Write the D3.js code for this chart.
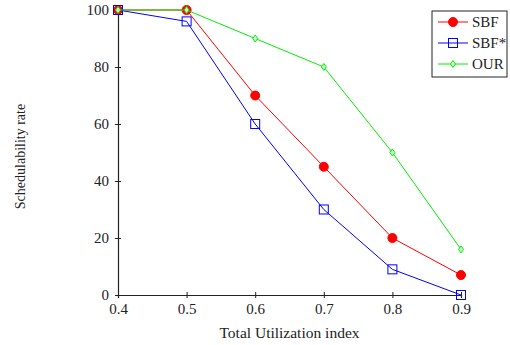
<!DOCTYPE html>
<html>
<head>
<meta charset="utf-8">
<script src="https://cdn.jsdelivr.net/npm/d3@7"></script>
<style>
  body { margin: 0; background: #fff; }
  svg text { font-family: "Liberation Serif", "DejaVu Serif", serif; fill: #222; }
</style>
</head>
<body>
<div id="chart"></div>
<script>
// data
const utilization = [0.4, 0.5, 0.6, 0.7, 0.8, 0.9];
const sbf = [100, 100, 70, 45, 20, 7];
const sbfStar = [100, 96, 60, 30, 9, 0];
const our = [100, 100, 90, 80, 50, 16];
const xTicks = [0.4, 0.5, 0.6, 0.7, 0.8, 0.9];
const yTicks = [0, 20, 40, 60, 80, 100];

const serif = "'Liberation Serif', 'DejaVu Serif', serif";

const margin = {top: 10, right: 49, bottom: 50, left: 118},
    width = 510 - margin.left - margin.right,
    height = 345 - margin.top - margin.bottom;

const svg = d3.select("#chart")
    .append("svg")
    .attr("width", 510)
    .attr("height", 345)
    .attr("font-family", serif);

const g = svg.append("g")
    .attr("transform", "translate(" + margin.left + "," + margin.top + ")");

const x = d3.scaleLinear().domain([0.4, 0.9]).range([0, width]);
const y = d3.scaleLinear().domain([0, 100]).range([height, 0]);

// axes
const xAxis = g.append("g")
    .attr("transform", "translate(0," + height + ")")
    .call(d3.axisBottom(x).tickValues(xTicks).tickFormat(d3.format(".1f")).tickSize(3).tickPadding(5));
const yAxis = g.append("g")
    .call(d3.axisLeft(y).tickValues(yTicks).tickSize(3).tickPadding(6));

[xAxis, yAxis].forEach(function(a) {
    a.attr("font-family", serif);
    a.select(".domain").attr("stroke", "#222").attr("stroke-width", 1.2);
    a.selectAll(".tick line").attr("stroke", "#222");
    a.selectAll("text").style("font-size", "15px").attr("fill", "#222");
});
// ticks cross the axis line
xAxis.selectAll(".tick line").attr("y1", -3).attr("y2", 3);
yAxis.selectAll(".tick line").attr("x1", -3).attr("x2", 3);

g.append("text")
    .attr("x", width / 2)
    .attr("y", height + 43)
    .attr("text-anchor", "middle")
    .style("font-size", "15.5px")
    .text("Total Utilization index");

g.append("text")
    .attr("transform", "rotate(-90)")
    .attr("x", -height / 2 - 4)
    .attr("y", -93)
    .attr("text-anchor", "middle")
    .style("font-size", "14px")
    .text("Schedulability rate");

const series = [
    {name: "SBF", values: sbf, color: "#ff0000", marker: "circle"},
    {name: "SBF*", values: sbfStar, color: "#0000ff", marker: "square"},
    {name: "OUR", values: our, color: "#00ee00", marker: "diamond"}
];

function drawMarker(sel, s, cx, cy) {
    if (s.marker === "circle") {
        sel.append("circle").attr("cx", cx).attr("cy", cy).attr("r", 4.5)
            .attr("fill", s.color).attr("stroke", s.color);
    } else if (s.marker === "square") {
        sel.append("rect").attr("x", cx - 4.5).attr("y", cy - 4.5)
            .attr("width", 9).attr("height", 9)
            .attr("fill", "none").attr("stroke", s.color).attr("stroke-width", 1);
    } else {
        sel.append("path")
            .attr("d", "M" + cx + "," + (cy - 3.5) + "L" + (cx + 2.5) + "," + cy +
                "L" + cx + "," + (cy + 3.5) + "L" + (cx - 2.5) + "," + cy + "Z")
            .attr("fill", "#ccffcc").attr("stroke", s.color).attr("stroke-width", 1);
    }
}

series.forEach(function(s) {
    const line = d3.line()
        .x(function(d, i) { return x(utilization[i]); })
        .y(function(d) { return y(d); });
    g.append("path")
        .datum(s.values)
        .attr("fill", "none")
        .attr("stroke", s.color)
        .attr("stroke-width", 1)
        .attr("d", line);
    const mg = g.append("g");
    s.values.forEach(function(v, i) {
        drawMarker(mg, s, x(utilization[i]), y(v));
    });
});

// legend
const legend = svg.append("g").attr("transform", "translate(432,11)");
legend.append("rect")
    .attr("width", 75).attr("height", 66)
    .attr("fill", "#fff").attr("stroke", "#222").attr("stroke-width", 1);
series.forEach(function(s, i) {
    const ly = 11 + i * 21;
    legend.append("line")
        .attr("x1", 6).attr("x2", 36).attr("y1", ly).attr("y2", ly)
        .attr("stroke", s.color).attr("stroke-width", 1);
    drawMarker(legend, s, 21, ly);
    legend.append("text")
        .attr("x", 40).attr("y", ly + 5)
        .style("font-size", "15px")
        .text(s.name);
});
</script>
</body>
</html>
